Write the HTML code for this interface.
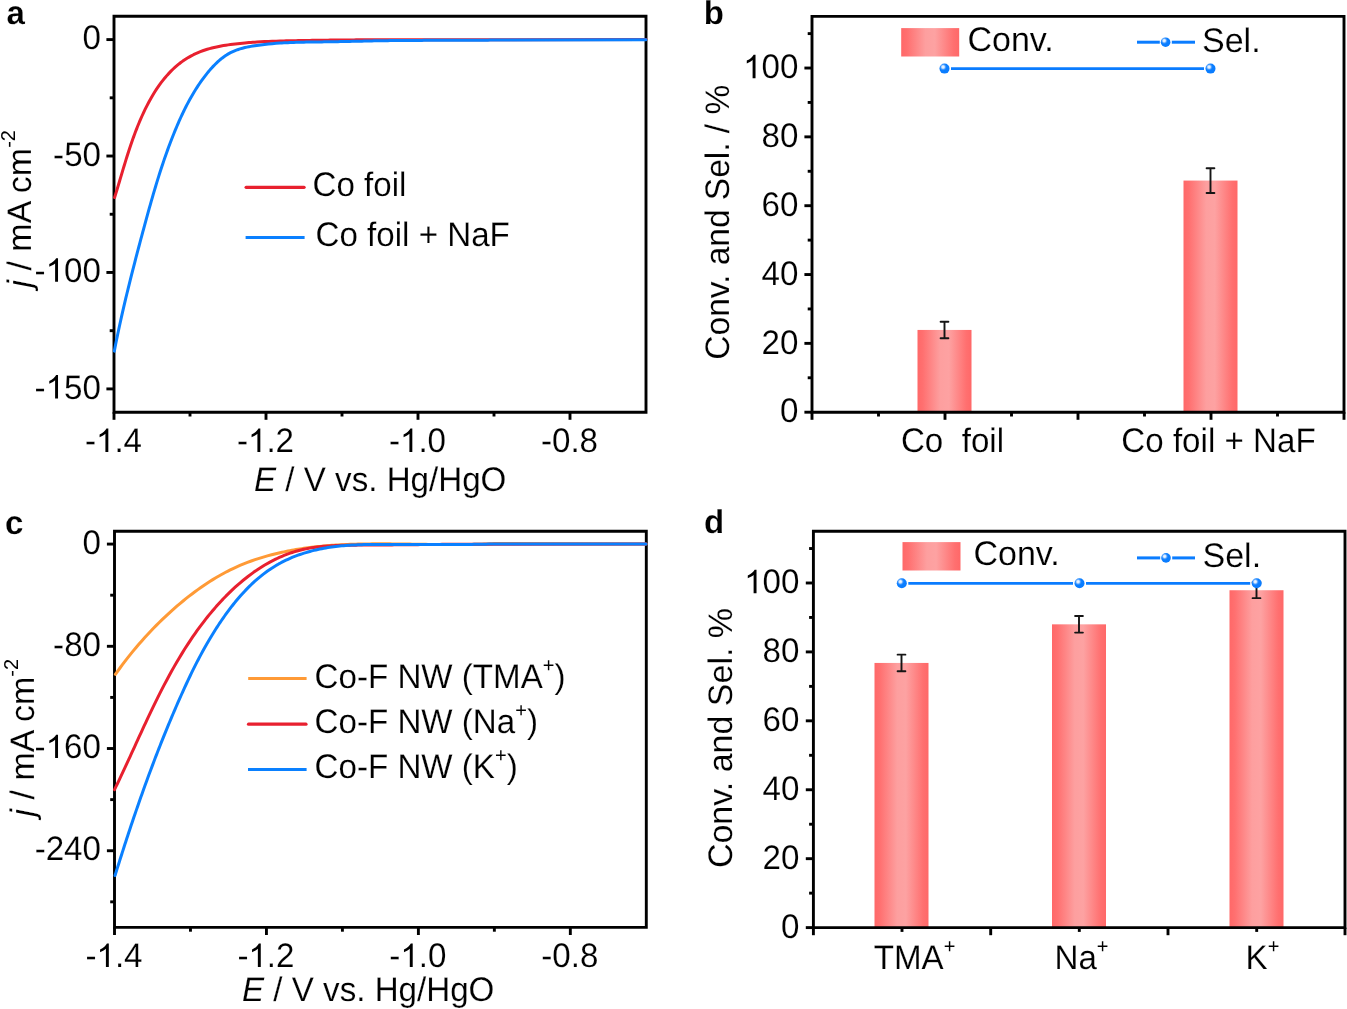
<!DOCTYPE html>
<html><head><meta charset="utf-8"><style>
html,body{margin:0;padding:0;background:#fff;width:1347px;height:1009px;overflow:hidden}
svg{position:absolute;left:0;top:0;will-change:transform} text{text-rendering:geometricPrecision;stroke:#fff;stroke-width:0.15px}
</style></head><body>
<svg width="1347" height="1009" viewBox="0 0 1347 1009">
<text transform="translate(6.50 24.40) scale(1.0000 1)" font-family="Liberation Sans, sans-serif" font-size="33" font-weight="bold" text-anchor="start">a</text>
<text transform="translate(703.70 23.90) scale(1.0000 1)" font-family="Liberation Sans, sans-serif" font-size="33" font-weight="bold" text-anchor="start">b</text>
<text transform="translate(4.90 533.60) scale(1.0000 1)" font-family="Liberation Sans, sans-serif" font-size="33" font-weight="bold" text-anchor="start">c</text>
<text transform="translate(704.00 533.40) scale(1.0000 1)" font-family="Liberation Sans, sans-serif" font-size="33" font-weight="bold" text-anchor="start">d</text>
<line x1="114" y1="39.59" x2="106.40" y2="39.59" stroke="#000" stroke-width="2.9"/>
<line x1="114" y1="156.03" x2="106.40" y2="156.03" stroke="#000" stroke-width="2.9"/>
<line x1="114" y1="272.47" x2="106.40" y2="272.47" stroke="#000" stroke-width="2.9"/>
<line x1="114" y1="388.91" x2="106.40" y2="388.91" stroke="#000" stroke-width="2.9"/>
<line x1="114" y1="97.81" x2="109.70" y2="97.81" stroke="#000" stroke-width="2.9"/>
<line x1="114" y1="214.25" x2="109.70" y2="214.25" stroke="#000" stroke-width="2.9"/>
<line x1="114" y1="330.69" x2="109.70" y2="330.69" stroke="#000" stroke-width="2.9"/>
<line x1="114.00" y1="412.2" x2="114.00" y2="419.80" stroke="#000" stroke-width="2.9"/>
<line x1="266.00" y1="412.2" x2="266.00" y2="419.80" stroke="#000" stroke-width="2.9"/>
<line x1="418.00" y1="412.2" x2="418.00" y2="419.80" stroke="#000" stroke-width="2.9"/>
<line x1="570.00" y1="412.2" x2="570.00" y2="419.80" stroke="#000" stroke-width="2.9"/>
<line x1="190.00" y1="412.2" x2="190.00" y2="416.50" stroke="#000" stroke-width="2.9"/>
<line x1="342.00" y1="412.2" x2="342.00" y2="416.50" stroke="#000" stroke-width="2.9"/>
<line x1="494.00" y1="412.2" x2="494.00" y2="416.50" stroke="#000" stroke-width="2.9"/>
<text transform="translate(101.00 48.79) scale(0.9750 1)" font-family="Liberation Sans, sans-serif" font-size="34" text-anchor="end">0</text>
<text transform="translate(101.00 165.83) scale(0.9750 1)" font-family="Liberation Sans, sans-serif" font-size="34" text-anchor="end">-50</text>
<text transform="translate(101.00 281.67) scale(0.9750 1)" font-family="Liberation Sans, sans-serif" font-size="34" text-anchor="end">-<tspan fill="transparent" stroke="none">1</tspan>00</text>
<path transform="translate(45.67 281.67) scale(0.01619 -0.01660)" d="M763,0 L583,0 L583,1102 Q518,1043 413,983 Q307,924 223,894 L223,1061 Q374,1129 487,1226 Q600,1323 647,1409 L763,1409 Z"/>
<text transform="translate(101.00 398.51) scale(0.9750 1)" font-family="Liberation Sans, sans-serif" font-size="34" text-anchor="end">-<tspan fill="transparent" stroke="none">1</tspan>50</text>
<path transform="translate(45.67 398.51) scale(0.01619 -0.01660)" d="M763,0 L583,0 L583,1102 Q518,1043 413,983 Q307,924 223,894 L223,1061 Q374,1129 487,1226 Q600,1323 647,1409 L763,1409 Z"/>
<text transform="translate(113.50 452.00) scale(0.9750 1)" font-family="Liberation Sans, sans-serif" font-size="34" text-anchor="middle">-<tspan fill="transparent" stroke="none">1</tspan>.4</text>
<path transform="translate(95.97 452.00) scale(0.01619 -0.01660)" d="M763,0 L583,0 L583,1102 Q518,1043 413,983 Q307,924 223,894 L223,1061 Q374,1129 487,1226 Q600,1323 647,1409 L763,1409 Z"/>
<text transform="translate(265.50 452.00) scale(0.9750 1)" font-family="Liberation Sans, sans-serif" font-size="34" text-anchor="middle">-<tspan fill="transparent" stroke="none">1</tspan>.2</text>
<path transform="translate(247.97 452.00) scale(0.01619 -0.01660)" d="M763,0 L583,0 L583,1102 Q518,1043 413,983 Q307,924 223,894 L223,1061 Q374,1129 487,1226 Q600,1323 647,1409 L763,1409 Z"/>
<text transform="translate(417.50 452.00) scale(0.9750 1)" font-family="Liberation Sans, sans-serif" font-size="34" text-anchor="middle">-<tspan fill="transparent" stroke="none">1</tspan>.0</text>
<path transform="translate(399.97 452.00) scale(0.01619 -0.01660)" d="M763,0 L583,0 L583,1102 Q518,1043 413,983 Q307,924 223,894 L223,1061 Q374,1129 487,1226 Q600,1323 647,1409 L763,1409 Z"/>
<text transform="translate(569.50 452.00) scale(0.9750 1)" font-family="Liberation Sans, sans-serif" font-size="34" text-anchor="middle">-0.8</text>
<path d="M114,412.2 L114,16.3 L646,16.3 L646,412.2 Z" fill="none" stroke="#000" stroke-width="2.9"/>
<path d="M114.60,197.49 L115.80,193.59 L116.98,189.71 L118.15,185.84 L119.30,181.98 L120.44,178.14 L121.58,174.32 L122.46,171.37 L123.34,168.44 L124.23,165.51 L125.12,162.59 L126.02,159.67 L126.92,156.76 L127.80,154.00 L128.69,151.24 L129.59,148.49 L130.51,145.74 L131.44,142.99 L132.40,140.25 L133.00,138.56 L133.61,136.87 L134.22,135.18 L134.85,133.50 L135.49,131.81 L136.13,130.13 L136.83,128.34 L137.54,126.55 L138.27,124.76 L139.00,122.97 L139.75,121.19 L140.52,119.40 L142.02,115.98 L143.58,112.57 L145.20,109.18 L146.88,105.81 L148.63,102.47 L150.43,99.17 L152.44,95.69 L154.52,92.27 L156.68,88.92 L158.93,85.63 L161.27,82.43 L163.70,79.31 L165.45,77.20 L167.24,75.14 L169.08,73.12 L170.97,71.16 L172.90,69.26 L174.89,67.42 L176.04,66.40 L177.20,65.41 L178.39,64.43 L179.59,63.48 L180.80,62.55 L182.04,61.64 L183.17,60.83 L184.32,60.04 L185.49,59.28 L186.66,58.53 L187.86,57.80 L189.06,57.09 L191.25,55.87 L193.48,54.71 L195.75,53.61 L198.05,52.59 L200.39,51.63 L202.75,50.74 L204.99,49.97 L207.26,49.25 L209.54,48.59 L211.85,47.99 L214.17,47.42 L216.51,46.91 L218.81,46.44 L221.13,46.00 L223.45,45.60 L225.78,45.23 L228.12,44.88 L230.45,44.55 L232.87,44.23 L235.29,43.94 L237.70,43.66 L240.12,43.40 L242.54,43.15 L244.96,42.92 L246.93,42.75 L248.91,42.58 L250.88,42.43 L252.86,42.28 L254.84,42.15 L256.81,42.02 L260.68,41.79 L264.54,41.59 L268.41,41.42 L272.28,41.26 L276.15,41.13 L280.02,41.01 L282.01,40.96 L284.01,40.91 L286.01,40.86 L288.01,40.81 L290.01,40.77 L292.01,40.72 L294.01,40.68 L296.01,40.64 L298.01,40.60 L300.01,40.56 L302.01,40.53 L304.01,40.49 L306.01,40.45 L308.01,40.42 L310.01,40.39 L312.01,40.35 L314.01,40.32 L316.01,40.29 L318.01,40.26 L320.01,40.23 L322.01,40.21 L324.01,40.18 L326.01,40.16 L328.01,40.13 L330.01,40.11 L332.01,40.08 L334.00,40.06 L336.00,40.04 L338.00,40.02 L340.00,40.00 L342.00,39.98 L344.00,39.96 L346.00,39.95 L348.00,39.93 L350.00,39.91 L352.00,39.90 L354.00,39.88 L356.00,39.87 L358.00,39.86 L360.00,39.85 L362.00,39.83 L364.00,39.82 L366.00,39.81 L368.00,39.80 L370.00,39.79 L372.00,39.78 L374.00,39.77 L376.00,39.77 L378.00,39.76 L380.00,39.75 L382.00,39.75 L384.00,39.74 L386.00,39.73 L388.00,39.73 L390.00,39.73 L392.00,39.72 L394.00,39.72 L396.00,39.71 L398.00,39.71 L400.00,39.71 L402.00,39.70 L404.00,39.70 L406.00,39.70 L408.00,39.70 L410.00,39.70 L412.00,39.70 L414.00,39.70 L416.00,39.70 L418.00,39.69 L420.00,39.69 L422.00,39.69 L424.00,39.69 L426.00,39.69 L428.00,39.69 L430.00,39.69 L432.00,39.70 L434.00,39.70 L436.00,39.70 L438.00,39.70 L440.00,39.70 L442.00,39.70 L444.00,39.70 L446.00,39.70 L448.00,39.70 L450.00,39.70 L452.00,39.70 L454.00,39.70 L456.00,39.70 L458.00,39.70 L460.00,39.70 L462.00,39.70 L464.00,39.70 L466.00,39.70 L468.00,39.70 L470.00,39.70 L472.00,39.70 L474.00,39.70 L476.00,39.70 L478.00,39.69 L480.00,39.69 L482.00,39.69 L484.00,39.69 L486.00,39.68 L488.00,39.68 L490.00,39.68 L492.00,39.67 L494.00,39.67 L496.00,39.66 L646.00,39.60" fill="none" stroke="#e8202f" stroke-width="3" stroke-linecap="round" stroke-linejoin="round"/>
<path d="M114.31,351.11 L114.98,347.67 L115.66,344.23 L116.35,340.80 L117.06,337.37 L117.77,333.94 L118.50,330.52 L119.47,325.99 L120.46,321.47 L121.47,316.95 L122.49,312.44 L123.53,307.93 L124.58,303.42 L125.69,298.70 L126.82,293.99 L127.97,289.27 L129.13,284.56 L130.30,279.86 L131.48,275.15 L132.57,270.85 L133.67,266.56 L134.78,262.26 L135.89,257.97 L137.01,253.68 L138.14,249.40 L139.04,246.00 L139.94,242.61 L140.85,239.23 L141.76,235.84 L142.67,232.45 L143.58,229.06 L144.52,225.58 L145.47,222.09 L146.42,218.61 L147.38,215.13 L148.34,211.65 L149.31,208.18 L150.33,204.55 L151.36,200.93 L152.40,197.31 L153.45,193.70 L154.51,190.09 L155.59,186.48 L156.59,183.18 L157.60,179.89 L158.62,176.60 L159.66,173.32 L160.72,170.04 L161.79,166.76 L162.73,163.94 L163.68,161.11 L164.65,158.30 L165.63,155.48 L166.62,152.67 L167.63,149.87 L168.84,146.57 L170.08,143.28 L171.33,139.99 L172.61,136.71 L173.92,133.44 L175.25,130.18 L176.02,128.33 L176.80,126.49 L177.59,124.64 L178.38,122.80 L179.19,120.97 L180.01,119.14 L180.75,117.50 L181.50,115.86 L182.27,114.24 L183.04,112.61 L183.82,110.99 L184.61,109.38 L185.80,107.02 L187.01,104.67 L188.24,102.33 L189.50,100.01 L190.78,97.71 L192.10,95.42 L193.26,93.44 L194.44,91.49 L195.65,89.54 L196.88,87.61 L198.14,85.69 L199.42,83.78 L200.50,82.22 L201.59,80.67 L202.71,79.12 L203.84,77.59 L204.99,76.07 L206.16,74.56 L207.28,73.16 L208.41,71.77 L209.56,70.39 L210.73,69.04 L211.93,67.70 L213.14,66.38 L214.30,65.16 L215.48,63.97 L216.69,62.80 L217.91,61.66 L219.15,60.55 L220.42,59.47 L222.02,58.18 L223.66,56.94 L225.33,55.77 L227.04,54.66 L228.79,53.63 L230.57,52.66 L232.85,51.56 L235.18,50.58 L237.56,49.70 L239.99,48.91 L242.46,48.20 L244.95,47.57 L246.89,47.14 L248.83,46.74 L250.79,46.37 L252.76,46.03 L254.73,45.72 L256.71,45.43 L260.57,44.90 L264.44,44.43 L268.31,44.02 L272.18,43.66 L276.05,43.35 L279.93,43.08 L281.93,42.95 L283.94,42.84 L285.94,42.73 L287.95,42.64 L289.95,42.55 L291.96,42.47 L293.96,42.40 L295.97,42.34 L297.97,42.28 L299.98,42.23 L301.98,42.18 L303.99,42.14 L305.99,42.10 L308.00,42.07 L310.00,42.04 L312.01,42.01 L314.01,41.98 L316.02,41.96 L318.02,41.93 L320.02,41.91 L322.03,41.89 L324.03,41.86 L326.03,41.84 L328.04,41.81 L330.04,41.78 L332.04,41.75 L334.04,41.71 L336.04,41.68 L338.04,41.64 L340.04,41.61 L342.04,41.57 L344.04,41.53 L346.03,41.48 L348.03,41.44 L350.03,41.40 L352.03,41.35 L354.03,41.31 L356.02,41.27 L358.02,41.22 L360.02,41.18 L362.02,41.13 L364.01,41.09 L366.01,41.04 L368.01,41.00 L370.00,40.96 L372.00,40.91 L374.00,40.87 L376.00,40.83 L377.99,40.80 L379.99,40.76 L381.99,40.72 L383.99,40.69 L385.99,40.66 L387.98,40.63 L389.98,40.60 L391.98,40.57 L393.98,40.55 L395.98,40.53 L397.98,40.51 L399.98,40.49 L401.98,40.47 L403.98,40.46 L405.98,40.44 L407.98,40.43 L409.98,40.42 L411.98,40.41 L413.98,40.40 L415.98,40.39 L417.99,40.39 L419.99,40.38 L421.99,40.38 L423.99,40.37 L425.99,40.37 L427.99,40.37 L429.99,40.37 L432.00,40.36 L434.00,40.36 L436.00,40.36 L438.00,40.36 L440.00,40.36 L442.00,40.36 L444.00,40.36 L446.01,40.35 L448.01,40.35 L450.01,40.35 L452.01,40.35 L454.01,40.35 L456.01,40.34 L458.01,40.34 L460.01,40.33 L462.01,40.33 L464.01,40.32 L466.01,40.31 L468.01,40.31 L470.01,40.30 L472.01,40.28 L474.01,40.27 L476.01,40.26 L478.01,40.24 L480.01,40.23 L482.01,40.21 L484.00,40.19 L486.00,40.16 L488.00,40.14 L490.00,40.11 L491.99,40.09 L493.99,40.06 L495.99,40.02 L646.00,39.80" fill="none" stroke="#0a80ff" stroke-width="3" stroke-linecap="round" stroke-linejoin="round"/>
<text transform="translate(254.00 491.30) scale(0.9750 1)" font-family="Liberation Sans, sans-serif" font-size="34" text-anchor="start"><tspan font-style="italic">E</tspan> / V vs. Hg/HgO</text>
<text transform="translate(30.70 208.80) rotate(-90) scale(1.0000 1)" font-family="Liberation Sans, sans-serif" font-size="34" text-anchor="middle"><tspan font-style="italic">j</tspan> / mA cm<tspan font-size="20" dy="-15.5" stroke="none">-2</tspan></text>
<line x1="246.1" y1="187.3" x2="304.09999999999997" y2="187.3" stroke="#e8202f" stroke-width="3.2" stroke-linecap="round"/>
<text transform="translate(312.50 196.20) scale(0.9750 1)" font-family="Liberation Sans, sans-serif" font-size="34" text-anchor="start">Co foil</text>
<line x1="245.6" y1="237.4" x2="304.6" y2="237.4" stroke="#0a80ff" stroke-width="3"/>
<text transform="translate(315.50 246.30) scale(0.9750 1)" font-family="Liberation Sans, sans-serif" font-size="34" text-anchor="start">Co foil + NaF</text>
<line x1="114.5" y1="544.08" x2="106.90" y2="544.08" stroke="#000" stroke-width="2.9"/>
<line x1="114.5" y1="646.30" x2="106.90" y2="646.30" stroke="#000" stroke-width="2.9"/>
<line x1="114.5" y1="748.52" x2="106.90" y2="748.52" stroke="#000" stroke-width="2.9"/>
<line x1="114.5" y1="850.74" x2="106.90" y2="850.74" stroke="#000" stroke-width="2.9"/>
<line x1="114.5" y1="595.19" x2="110.20" y2="595.19" stroke="#000" stroke-width="2.9"/>
<line x1="114.5" y1="697.41" x2="110.20" y2="697.41" stroke="#000" stroke-width="2.9"/>
<line x1="114.5" y1="799.63" x2="110.20" y2="799.63" stroke="#000" stroke-width="2.9"/>
<line x1="114.5" y1="901.85" x2="110.20" y2="901.85" stroke="#000" stroke-width="2.9"/>
<line x1="114.50" y1="927.4" x2="114.50" y2="935.00" stroke="#000" stroke-width="2.9"/>
<line x1="266.44" y1="927.4" x2="266.44" y2="935.00" stroke="#000" stroke-width="2.9"/>
<line x1="418.39" y1="927.4" x2="418.39" y2="935.00" stroke="#000" stroke-width="2.9"/>
<line x1="570.33" y1="927.4" x2="570.33" y2="935.00" stroke="#000" stroke-width="2.9"/>
<line x1="190.47" y1="927.4" x2="190.47" y2="931.70" stroke="#000" stroke-width="2.9"/>
<line x1="342.41" y1="927.4" x2="342.41" y2="931.70" stroke="#000" stroke-width="2.9"/>
<line x1="494.36" y1="927.4" x2="494.36" y2="931.70" stroke="#000" stroke-width="2.9"/>
<text transform="translate(101.00 554.08) scale(0.9750 1)" font-family="Liberation Sans, sans-serif" font-size="34" text-anchor="end">0</text>
<text transform="translate(101.00 655.70) scale(0.9750 1)" font-family="Liberation Sans, sans-serif" font-size="34" text-anchor="end">-80</text>
<text transform="translate(101.00 758.12) scale(0.9750 1)" font-family="Liberation Sans, sans-serif" font-size="34" text-anchor="end">-<tspan fill="transparent" stroke="none">1</tspan>60</text>
<path transform="translate(45.67 758.12) scale(0.01619 -0.01660)" d="M763,0 L583,0 L583,1102 Q518,1043 413,983 Q307,924 223,894 L223,1061 Q374,1129 487,1226 Q600,1323 647,1409 L763,1409 Z"/>
<text transform="translate(101.00 860.34) scale(0.9750 1)" font-family="Liberation Sans, sans-serif" font-size="34" text-anchor="end">-240</text>
<text transform="translate(114.00 967.00) scale(0.9750 1)" font-family="Liberation Sans, sans-serif" font-size="34" text-anchor="middle">-<tspan fill="transparent" stroke="none">1</tspan>.4</text>
<path transform="translate(96.47 967.00) scale(0.01619 -0.01660)" d="M763,0 L583,0 L583,1102 Q518,1043 413,983 Q307,924 223,894 L223,1061 Q374,1129 487,1226 Q600,1323 647,1409 L763,1409 Z"/>
<text transform="translate(265.94 967.00) scale(0.9750 1)" font-family="Liberation Sans, sans-serif" font-size="34" text-anchor="middle">-<tspan fill="transparent" stroke="none">1</tspan>.2</text>
<path transform="translate(248.42 967.00) scale(0.01619 -0.01660)" d="M763,0 L583,0 L583,1102 Q518,1043 413,983 Q307,924 223,894 L223,1061 Q374,1129 487,1226 Q600,1323 647,1409 L763,1409 Z"/>
<text transform="translate(417.89 967.00) scale(0.9750 1)" font-family="Liberation Sans, sans-serif" font-size="34" text-anchor="middle">-<tspan fill="transparent" stroke="none">1</tspan>.0</text>
<path transform="translate(400.36 967.00) scale(0.01619 -0.01660)" d="M763,0 L583,0 L583,1102 Q518,1043 413,983 Q307,924 223,894 L223,1061 Q374,1129 487,1226 Q600,1323 647,1409 L763,1409 Z"/>
<text transform="translate(569.83 967.00) scale(0.9750 1)" font-family="Liberation Sans, sans-serif" font-size="34" text-anchor="middle">-0.8</text>
<path d="M114.5,927.4 L114.5,531.3 L646.3,531.3 L646.3,927.4 Z" fill="none" stroke="#000" stroke-width="2.9"/>
<path d="M115.39,674.39 L117.75,671.07 L120.15,667.75 L122.60,664.45 L125.09,661.17 L127.63,657.90 L130.21,654.65 L133.03,651.17 L135.90,647.72 L138.81,644.30 L141.78,640.91 L144.79,637.54 L147.84,634.20 L150.63,631.23 L153.45,628.28 L156.31,625.36 L159.20,622.47 L162.13,619.62 L165.10,616.79 L168.06,614.03 L171.06,611.30 L174.09,608.60 L177.15,605.94 L180.25,603.32 L183.37,600.74 L186.22,598.44 L189.10,596.17 L192.00,593.94 L194.92,591.75 L197.87,589.60 L200.85,587.49 L203.80,585.46 L206.76,583.47 L209.76,581.53 L212.78,579.63 L215.82,577.79 L218.89,576.00 L221.13,574.72 L223.39,573.48 L225.66,572.27 L227.95,571.08 L230.24,569.93 L232.55,568.81 L236.23,567.10 L239.94,565.46 L243.68,563.91 L247.45,562.43 L251.25,561.02 L255.07,559.68 L259.16,558.34 L263.28,557.07 L267.42,555.87 L271.59,554.75 L275.78,553.69 L280.00,552.71 L281.97,552.27 L283.95,551.85 L285.94,551.44 L287.92,551.04 L289.91,550.66 L291.91,550.29 L293.90,549.93 L295.89,549.59 L297.88,549.26 L299.88,548.94 L301.88,548.64 L303.88,548.34 L305.88,548.06 L307.88,547.79 L309.87,547.54 L311.88,547.29 L313.88,547.05 L315.88,546.83 L317.89,546.61 L319.89,546.40 L321.90,546.21 L323.90,546.02 L325.91,545.84 L327.92,545.68 L329.92,545.52 L331.93,545.37 L333.93,545.23 L335.94,545.09 L337.95,544.97 L339.95,544.85 L341.96,544.74 L343.96,544.64 L345.96,544.54 L347.96,544.45 L349.97,544.37 L351.97,544.30 L353.97,544.23 L355.97,544.17 L357.98,544.11 L359.98,544.06 L361.98,544.01 L363.99,543.98 L365.99,543.94 L367.99,543.91 L369.99,543.89 L371.99,543.87 L374.00,543.85 L376.00,543.84 L378.00,543.83 L380.00,543.83 L382.01,543.83 L384.01,543.83 L386.01,543.84 L388.01,543.85 L390.01,543.86 L392.02,543.88 L394.02,543.90 L396.02,543.92 L398.02,543.94 L400.02,543.96 L402.02,543.99 L404.03,544.02 L406.03,544.05 L408.03,544.08 L410.03,544.11 L412.03,544.14 L414.03,544.17 L416.03,544.20 L418.03,544.23 L420.03,544.27 L422.03,544.30 L424.03,544.33 L426.04,544.36 L428.04,544.39 L430.04,544.42 L432.04,544.44 L434.04,544.47 L436.04,544.49 L438.03,544.52 L440.03,544.54 L442.03,544.55 L444.03,544.57 L446.03,544.58 L448.03,544.59 L450.03,544.60 L452.03,544.60 L454.03,544.60 L456.03,544.60 L458.02,544.59 L460.02,544.58 L462.02,544.56 L464.02,544.54 L466.01,544.52 L468.01,544.49 L470.01,544.46 L472.01,544.42 L474.00,544.37 L476.00,544.32 L478.00,544.26 L479.99,544.20 L481.99,544.13 L483.98,544.06 L485.98,543.97 L487.97,543.88 L489.97,543.79 L491.96,543.69 L493.96,543.58 L495.95,543.46 L646.00,543.90" fill="none" stroke="#ff9a36" stroke-width="3" stroke-linecap="round" stroke-linejoin="round"/>
<path d="M114.52,789.61 L115.83,786.92 L117.13,784.24 L118.42,781.54 L119.70,778.85 L120.98,776.15 L122.25,773.45 L123.31,771.19 L124.37,768.94 L125.42,766.68 L126.46,764.42 L127.51,762.16 L128.55,759.90 L130.09,756.56 L131.62,753.23 L133.15,749.89 L134.68,746.56 L136.20,743.22 L137.73,739.89 L139.30,736.47 L140.87,733.05 L142.45,729.64 L144.03,726.23 L145.62,722.82 L147.21,719.42 L149.23,715.14 L151.26,710.88 L153.31,706.62 L155.38,702.37 L157.47,698.14 L159.58,693.92 L161.87,689.41 L164.20,684.91 L166.56,680.43 L168.96,675.98 L171.40,671.54 L173.88,667.13 L176.54,662.51 L179.25,657.91 L182.02,653.35 L184.85,648.82 L187.74,644.32 L190.70,639.85 L192.84,636.71 L195.01,633.59 L197.22,630.48 L199.46,627.40 L201.74,624.34 L204.07,621.29 L205.73,619.16 L207.41,617.04 L209.12,614.93 L210.84,612.83 L212.59,610.75 L214.35,608.68 L215.49,607.38 L216.63,606.07 L217.79,604.78 L218.95,603.49 L220.11,602.21 L221.29,600.94 L222.30,599.87 L223.31,598.81 L224.32,597.75 L225.35,596.69 L226.37,595.65 L227.41,594.61 L229.95,592.10 L232.53,589.64 L235.14,587.22 L237.79,584.85 L240.47,582.53 L243.19,580.26 L248.30,576.21 L253.54,572.36 L258.88,568.72 L264.35,565.30 L269.93,562.12 L275.63,559.20 L276.35,558.85 L277.08,558.50 L277.81,558.16 L278.54,557.82 L279.28,557.49 L280.01,557.16 L282.00,556.30 L284.01,555.47 L286.02,554.67 L288.05,553.91 L290.10,553.18 L292.15,552.49 L294.07,551.87 L295.99,551.29 L297.93,550.74 L299.87,550.22 L301.83,549.74 L303.80,549.28 L305.74,548.87 L307.69,548.48 L309.65,548.13 L311.61,547.80 L313.59,547.50 L315.58,547.22 L317.57,546.97 L319.56,546.74 L321.57,546.53 L323.58,546.35 L325.59,546.18 L327.61,546.03 L329.63,545.89 L331.66,545.78 L333.69,545.67 L335.72,545.58 L337.75,545.50 L339.79,545.43 L341.82,545.37 L343.86,545.32 L345.89,545.28 L347.93,545.24 L349.96,545.21 L351.99,545.18 L354.02,545.15 L356.04,545.13 L358.06,545.10 L360.08,545.08 L362.10,545.06 L364.11,545.05 L366.13,545.03 L368.14,545.01 L370.15,545.00 L372.15,544.99 L374.16,544.97 L376.16,544.96 L378.16,544.95 L380.16,544.94 L382.16,544.93 L384.16,544.92 L386.16,544.91 L388.16,544.90 L390.15,544.89 L392.15,544.88 L394.14,544.86 L396.13,544.85 L398.13,544.84 L400.12,544.82 L402.11,544.81 L404.11,544.79 L406.10,544.77 L408.09,544.75 L410.08,544.73 L412.07,544.71 L414.07,544.69 L416.06,544.67 L418.05,544.64 L420.04,544.62 L422.03,544.60 L424.03,544.57 L426.02,544.55 L428.01,544.52 L430.00,544.50 L432.00,544.48 L433.99,544.45 L435.98,544.43 L437.97,544.40 L439.97,544.38 L441.96,544.36 L443.96,544.34 L445.95,544.32 L447.95,544.30 L449.94,544.28 L451.94,544.26 L453.94,544.24 L455.94,544.23 L457.93,544.21 L459.93,544.20 L461.93,544.18 L463.93,544.17 L465.93,544.16 L467.94,544.16 L469.94,544.15 L471.94,544.15 L473.95,544.14 L475.95,544.14 L477.96,544.15 L479.97,544.15 L481.97,544.16 L483.98,544.17 L485.99,544.18 L488.01,544.19 L490.02,544.21 L492.03,544.23 L494.05,544.25 L496.06,544.27 L646.00,543.90" fill="none" stroke="#e8202f" stroke-width="3" stroke-linecap="round" stroke-linejoin="round"/>
<path d="M115.04,875.51 L115.77,873.14 L116.50,870.78 L117.24,868.42 L117.98,866.06 L118.72,863.70 L119.47,861.33 L120.03,859.54 L120.60,857.75 L121.17,855.96 L121.74,854.17 L122.31,852.38 L122.89,850.59 L123.81,847.71 L124.74,844.83 L125.68,841.95 L126.62,839.08 L127.56,836.20 L128.51,833.32 L129.79,829.45 L131.08,825.58 L132.38,821.71 L133.69,817.84 L135.01,813.98 L136.33,810.12 L137.43,806.92 L138.54,803.72 L139.66,800.53 L140.78,797.34 L141.91,794.15 L143.04,790.97 L144.89,785.83 L146.75,780.70 L148.63,775.57 L150.53,770.46 L152.45,765.35 L154.38,760.25 L155.31,757.82 L156.25,755.39 L157.18,752.96 L158.13,750.54 L159.07,748.11 L160.03,745.69 L161.22,742.66 L162.43,739.64 L163.64,736.62 L164.86,733.60 L166.09,730.59 L167.32,727.58 L168.42,724.91 L169.53,722.24 L170.65,719.58 L171.77,716.91 L172.90,714.25 L174.03,711.60 L174.91,709.56 L175.78,707.53 L176.66,705.50 L177.55,703.47 L178.44,701.44 L179.33,699.41 L181.07,695.49 L182.83,691.57 L184.61,687.66 L186.41,683.75 L188.23,679.86 L190.08,675.98 L191.42,673.21 L192.77,670.44 L194.14,667.68 L195.52,664.93 L196.92,662.18 L198.34,659.45 L199.68,656.89 L201.04,654.34 L202.42,651.80 L203.81,649.27 L205.22,646.75 L206.65,644.24 L207.96,641.96 L209.29,639.69 L210.63,637.43 L212.00,635.18 L213.38,632.94 L214.77,630.70 L215.84,629.03 L216.91,627.36 L217.99,625.69 L219.09,624.03 L220.19,622.38 L221.31,620.73 L222.40,619.15 L223.49,617.58 L224.59,616.01 L225.71,614.45 L226.83,612.90 L227.97,611.35 L229.08,609.87 L230.19,608.40 L231.32,606.93 L232.46,605.48 L233.60,604.03 L234.76,602.59 L235.81,601.31 L236.87,600.03 L237.94,598.77 L239.02,597.51 L240.11,596.26 L241.20,595.02 L242.85,593.20 L244.51,591.40 L246.20,589.63 L247.91,587.88 L249.64,586.16 L251.39,584.46 L255.18,580.96 L259.08,577.59 L263.07,574.37 L267.18,571.31 L271.38,568.42 L275.70,565.71 L276.42,565.29 L277.14,564.86 L277.86,564.45 L278.59,564.04 L279.32,563.63 L280.05,563.23 L282.01,562.19 L283.99,561.18 L285.99,560.21 L288.01,559.27 L290.04,558.36 L292.10,557.49 L294.04,556.70 L296.01,555.94 L297.98,555.20 L299.97,554.49 L301.97,553.82 L303.98,553.17 L305.94,552.56 L307.90,551.99 L309.88,551.44 L311.87,550.91 L313.86,550.41 L315.86,549.93 L317.83,549.48 L319.80,549.06 L321.78,548.66 L323.77,548.28 L325.76,547.93 L327.76,547.59 L329.74,547.29 L331.73,547.00 L333.73,546.73 L335.72,546.48 L337.72,546.25 L339.72,546.03 L341.73,545.83 L343.73,545.65 L345.74,545.49 L347.75,545.34 L349.76,545.21 L351.78,545.08 L353.79,544.98 L355.81,544.88 L357.82,544.79 L359.84,544.72 L361.86,544.66 L363.88,544.60 L365.90,544.56 L367.92,544.52 L369.94,544.49 L371.96,544.46 L373.98,544.45 L376.00,544.43 L378.02,544.43 L380.04,544.42 L382.05,544.42 L384.07,544.43 L386.08,544.43 L388.10,544.44 L390.11,544.44 L392.12,544.45 L394.13,544.46 L396.14,544.47 L398.14,544.47 L400.15,544.48 L402.15,544.49 L404.15,544.50 L406.15,544.51 L408.15,544.52 L410.15,544.53 L412.15,544.54 L414.14,544.55 L416.14,544.55 L418.13,544.56 L420.13,544.57 L422.12,544.58 L424.11,544.58 L426.11,544.59 L428.10,544.60 L430.09,544.60 L432.08,544.60 L434.07,544.61 L436.06,544.61 L438.05,544.61 L440.04,544.61 L442.03,544.61 L444.03,544.60 L446.02,544.60 L448.01,544.60 L450.00,544.59 L451.99,544.58 L453.98,544.57 L455.97,544.56 L457.97,544.55 L459.96,544.53 L461.95,544.51 L463.95,544.50 L465.94,544.47 L467.94,544.45 L469.94,544.43 L471.94,544.40 L473.94,544.37 L475.94,544.34 L477.94,544.31 L479.94,544.27 L481.94,544.23 L483.95,544.19 L485.96,544.14 L487.96,544.10 L489.97,544.05 L491.99,543.99 L494.00,543.94 L496.01,543.88 L646.00,543.90" fill="none" stroke="#0a80ff" stroke-width="3" stroke-linecap="round" stroke-linejoin="round"/>
<text transform="translate(242.00 1001.30) scale(0.9750 1)" font-family="Liberation Sans, sans-serif" font-size="34" text-anchor="start"><tspan font-style="italic">E</tspan> / V vs. Hg/HgO</text>
<text transform="translate(33.50 737.70) rotate(-90) scale(1.0000 1)" font-family="Liberation Sans, sans-serif" font-size="34" text-anchor="middle"><tspan font-style="italic">j</tspan> / mA cm<tspan font-size="20" dy="-15.5" stroke="none">-2</tspan></text>
<line x1="248.2" y1="678.6" x2="306.6" y2="678.6" stroke="#ff9a36" stroke-width="3"/>
<text transform="translate(314.50 688.30) scale(0.9750 1)" font-family="Liberation Sans, sans-serif" font-size="34" text-anchor="start">Co-F NW (TMA<tspan font-size="20.5" dy="-16" stroke="none">+</tspan><tspan dy="16">)</tspan></text>
<line x1="248.5" y1="724.2" x2="306.0" y2="724.2" stroke="#e8202f" stroke-width="3.2" stroke-linecap="round"/>
<text transform="translate(314.50 733.00) scale(0.9750 1)" font-family="Liberation Sans, sans-serif" font-size="34" text-anchor="start">Co-F NW (Na<tspan font-size="20.5" dy="-16" stroke="none">+</tspan><tspan dy="16">)</tspan></text>
<line x1="248" y1="769.4" x2="306.6" y2="769.4" stroke="#0a80ff" stroke-width="3"/>
<text transform="translate(314.50 778.30) scale(0.9750 1)" font-family="Liberation Sans, sans-serif" font-size="34" text-anchor="start">Co-F NW (K<tspan font-size="20.5" dy="-16" stroke="none">+</tspan><tspan dy="16">)</tspan></text>
<defs>
<linearGradient id="bg" x1="0" x2="1" y1="0" y2="0">
<stop offset="0" stop-color="#ff6868"/><stop offset="0.1" stop-color="#ff7070"/><stop offset="0.42" stop-color="#fd9f9f"/><stop offset="0.58" stop-color="#fda2a2"/><stop offset="0.9" stop-color="#ff7070"/><stop offset="1" stop-color="#ff6868"/>
</linearGradient>
<radialGradient id="dg" cx="0.36" cy="0.34" r="0.62" fx="0.36" fy="0.34">
<stop offset="0" stop-color="#f4f9ff"/><stop offset="0.2" stop-color="#d6e9ff"/><stop offset="0.42" stop-color="#3a95ff"/><stop offset="0.58" stop-color="#0a7eff"/><stop offset="1" stop-color="#0a7cff"/>
</radialGradient>
</defs>
<line x1="812" y1="412.20" x2="804.40" y2="412.20" stroke="#000" stroke-width="2.9"/>
<line x1="812" y1="343.37" x2="804.40" y2="343.37" stroke="#000" stroke-width="2.9"/>
<line x1="812" y1="274.53" x2="804.40" y2="274.53" stroke="#000" stroke-width="2.9"/>
<line x1="812" y1="205.70" x2="804.40" y2="205.70" stroke="#000" stroke-width="2.9"/>
<line x1="812" y1="136.86" x2="804.40" y2="136.86" stroke="#000" stroke-width="2.9"/>
<line x1="812" y1="68.03" x2="804.40" y2="68.03" stroke="#000" stroke-width="2.9"/>
<line x1="812" y1="377.78" x2="807.70" y2="377.78" stroke="#000" stroke-width="2.9"/>
<line x1="812" y1="308.95" x2="807.70" y2="308.95" stroke="#000" stroke-width="2.9"/>
<line x1="812" y1="240.11" x2="807.70" y2="240.11" stroke="#000" stroke-width="2.9"/>
<line x1="812" y1="171.28" x2="807.70" y2="171.28" stroke="#000" stroke-width="2.9"/>
<line x1="812" y1="102.44" x2="807.70" y2="102.44" stroke="#000" stroke-width="2.9"/>
<line x1="812" y1="33.61" x2="807.70" y2="33.61" stroke="#000" stroke-width="2.9"/>
<line x1="812.00" y1="412.2" x2="812.00" y2="419.80" stroke="#000" stroke-width="2.9"/>
<line x1="945.00" y1="412.2" x2="945.00" y2="419.80" stroke="#000" stroke-width="2.9"/>
<line x1="1078.00" y1="412.2" x2="1078.00" y2="419.80" stroke="#000" stroke-width="2.9"/>
<line x1="1211.00" y1="412.2" x2="1211.00" y2="419.80" stroke="#000" stroke-width="2.9"/>
<line x1="1344.00" y1="412.2" x2="1344.00" y2="419.80" stroke="#000" stroke-width="2.9"/>
<line x1="878.50" y1="412.2" x2="878.50" y2="416.50" stroke="#000" stroke-width="2.9"/>
<line x1="1011.50" y1="412.2" x2="1011.50" y2="416.50" stroke="#000" stroke-width="2.9"/>
<line x1="1144.50" y1="412.2" x2="1144.50" y2="416.50" stroke="#000" stroke-width="2.9"/>
<line x1="1277.50" y1="412.2" x2="1277.50" y2="416.50" stroke="#000" stroke-width="2.9"/>
<text transform="translate(798.50 422.40) scale(0.9750 1)" font-family="Liberation Sans, sans-serif" font-size="34" text-anchor="end">0</text>
<text transform="translate(798.50 353.57) scale(0.9750 1)" font-family="Liberation Sans, sans-serif" font-size="34" text-anchor="end">20</text>
<text transform="translate(798.50 284.73) scale(0.9750 1)" font-family="Liberation Sans, sans-serif" font-size="34" text-anchor="end">40</text>
<text transform="translate(798.50 215.90) scale(0.9750 1)" font-family="Liberation Sans, sans-serif" font-size="34" text-anchor="end">60</text>
<text transform="translate(798.50 147.06) scale(0.9750 1)" font-family="Liberation Sans, sans-serif" font-size="34" text-anchor="end">80</text>
<text transform="translate(798.50 78.23) scale(0.9750 1)" font-family="Liberation Sans, sans-serif" font-size="34" text-anchor="end"><tspan fill="transparent" stroke="none">1</tspan>00</text>
<path transform="translate(743.17 78.23) scale(0.01619 -0.01660)" d="M763,0 L583,0 L583,1102 Q518,1043 413,983 Q307,924 223,894 L223,1061 Q374,1129 487,1226 Q600,1323 647,1409 L763,1409 Z"/>
<rect x="917.5" y="329.94" width="54" height="82.26" fill="url(#bg)"/>
<path d="M944.5,321.68 V338.20 M940.6,321.68 H948.4 M940.6,338.20 H948.4" stroke="#151515" stroke-width="1.9" stroke-linecap="round" fill="none"/>
<rect x="1183.5" y="180.57" width="54" height="231.63" fill="url(#bg)"/>
<path d="M1210.5,168.18 V192.96 M1206.6,168.18 H1214.4 M1206.6,192.96 H1214.4" stroke="#151515" stroke-width="1.9" stroke-linecap="round" fill="none"/>
<line x1="951.0" y1="68.6" x2="1204.0" y2="68.6" stroke="#0a7cff" stroke-width="2.8"/>
<circle cx="944.5" cy="68.6" r="5.0" fill="url(#dg)"/>
<circle cx="1210.5" cy="68.6" r="5.0" fill="url(#dg)"/>
<path d="M812,412.2 L812,16.4 L1344,16.4 L1344,412.2 Z" fill="none" stroke="#000" stroke-width="2.9"/>
<text transform="translate(952.50 451.50) scale(0.9750 1)" font-family="Liberation Sans, sans-serif" font-size="34" text-anchor="middle">Co  foil</text>
<text transform="translate(1218.50 451.70) scale(0.9750 1)" font-family="Liberation Sans, sans-serif" font-size="34" text-anchor="middle">Co foil + NaF</text>
<text transform="translate(728.50 222.20) rotate(-90) scale(0.9850 1)" font-family="Liberation Sans, sans-serif" font-size="34" text-anchor="middle">Conv. and Sel. / %</text>
<rect x="901.2" y="28.1" width="58" height="28.4" fill="url(#bg)"/>
<text transform="translate(967.50 51.20) scale(1.0000 1)" font-family="Liberation Sans, sans-serif" font-size="34" text-anchor="start">Conv.</text>
<line x1="1137" y1="42.2" x2="1159.8" y2="42.2" stroke="#0a7cff" stroke-width="3"/>
<line x1="1171.8" y1="42.2" x2="1195" y2="42.2" stroke="#0a7cff" stroke-width="3"/>
<circle cx="1165.6" cy="42.2" r="4.8" fill="url(#dg)"/>
<text transform="translate(1202.00 52.00) scale(1.0000 1)" font-family="Liberation Sans, sans-serif" font-size="34" text-anchor="start">Sel.</text>
<line x1="813.4" y1="927.60" x2="805.80" y2="927.60" stroke="#000" stroke-width="2.9"/>
<line x1="813.4" y1="858.68" x2="805.80" y2="858.68" stroke="#000" stroke-width="2.9"/>
<line x1="813.4" y1="789.76" x2="805.80" y2="789.76" stroke="#000" stroke-width="2.9"/>
<line x1="813.4" y1="720.83" x2="805.80" y2="720.83" stroke="#000" stroke-width="2.9"/>
<line x1="813.4" y1="651.91" x2="805.80" y2="651.91" stroke="#000" stroke-width="2.9"/>
<line x1="813.4" y1="582.99" x2="805.80" y2="582.99" stroke="#000" stroke-width="2.9"/>
<line x1="813.4" y1="893.14" x2="809.10" y2="893.14" stroke="#000" stroke-width="2.9"/>
<line x1="813.4" y1="824.22" x2="809.10" y2="824.22" stroke="#000" stroke-width="2.9"/>
<line x1="813.4" y1="755.30" x2="809.10" y2="755.30" stroke="#000" stroke-width="2.9"/>
<line x1="813.4" y1="686.37" x2="809.10" y2="686.37" stroke="#000" stroke-width="2.9"/>
<line x1="813.4" y1="617.45" x2="809.10" y2="617.45" stroke="#000" stroke-width="2.9"/>
<line x1="813.4" y1="548.53" x2="809.10" y2="548.53" stroke="#000" stroke-width="2.9"/>
<line x1="813.40" y1="927.6" x2="813.40" y2="935.20" stroke="#000" stroke-width="2.9"/>
<line x1="990.70" y1="927.6" x2="990.70" y2="935.20" stroke="#000" stroke-width="2.9"/>
<line x1="1168.00" y1="927.6" x2="1168.00" y2="935.20" stroke="#000" stroke-width="2.9"/>
<line x1="1345.00" y1="927.6" x2="1345.00" y2="935.20" stroke="#000" stroke-width="2.9"/>
<line x1="902.00" y1="927.6" x2="902.00" y2="931.90" stroke="#000" stroke-width="2.9"/>
<line x1="1079.30" y1="927.6" x2="1079.30" y2="931.90" stroke="#000" stroke-width="2.9"/>
<line x1="1256.70" y1="927.6" x2="1256.70" y2="931.90" stroke="#000" stroke-width="2.9"/>
<text transform="translate(799.50 937.80) scale(0.9750 1)" font-family="Liberation Sans, sans-serif" font-size="34" text-anchor="end">0</text>
<text transform="translate(799.50 868.88) scale(0.9750 1)" font-family="Liberation Sans, sans-serif" font-size="34" text-anchor="end">20</text>
<text transform="translate(799.50 799.96) scale(0.9750 1)" font-family="Liberation Sans, sans-serif" font-size="34" text-anchor="end">40</text>
<text transform="translate(799.50 731.03) scale(0.9750 1)" font-family="Liberation Sans, sans-serif" font-size="34" text-anchor="end">60</text>
<text transform="translate(799.50 662.11) scale(0.9750 1)" font-family="Liberation Sans, sans-serif" font-size="34" text-anchor="end">80</text>
<text transform="translate(799.50 593.19) scale(0.9750 1)" font-family="Liberation Sans, sans-serif" font-size="34" text-anchor="end"><tspan fill="transparent" stroke="none">1</tspan>00</text>
<path transform="translate(744.17 593.19) scale(0.01619 -0.01660)" d="M763,0 L583,0 L583,1102 Q518,1043 413,983 Q307,924 223,894 L223,1061 Q374,1129 487,1226 Q600,1323 647,1409 L763,1409 Z"/>
<rect x="874.5" y="662.94" width="54" height="264.66" fill="url(#bg)"/>
<path d="M901.5,654.67 V671.21 M897.6,654.67 H905.4 M897.6,671.21 H905.4" stroke="#151515" stroke-width="1.9" stroke-linecap="round" fill="none"/>
<rect x="1052" y="624.34" width="54" height="303.26" fill="url(#bg)"/>
<path d="M1079,616.07 V632.61 M1075.1,616.07 H1082.9 M1075.1,632.61 H1082.9" stroke="#151515" stroke-width="1.9" stroke-linecap="round" fill="none"/>
<rect x="1229.5" y="590.23" width="54" height="337.37" fill="url(#bg)"/>
<path d="M1256.5,582.30 V598.15 M1252.6,582.30 H1260.4 M1252.6,598.15 H1260.4" stroke="#151515" stroke-width="1.9" stroke-linecap="round" fill="none"/>
<line x1="908.3" y1="583.3" x2="1073.0" y2="583.3" stroke="#0a7cff" stroke-width="2.8"/>
<line x1="1086.0" y1="583.3" x2="1250.2" y2="583.3" stroke="#0a7cff" stroke-width="2.8"/>
<circle cx="901.8" cy="583.3" r="5.0" fill="url(#dg)"/>
<circle cx="1079.5" cy="583.3" r="5.0" fill="url(#dg)"/>
<circle cx="1256.7" cy="583.3" r="5.0" fill="url(#dg)"/>
<path d="M813.4,927.6 L813.4,531.3 L1345,531.3 L1345,927.6 Z" fill="none" stroke="#000" stroke-width="2.9"/>
<text transform="translate(914.50 969.40) scale(0.9750 1)" font-family="Liberation Sans, sans-serif" font-size="34" text-anchor="middle">TMA<tspan font-size="20.5" dy="-16" stroke="none">+</tspan></text>
<text transform="translate(1081.50 969.40) scale(0.9750 1)" font-family="Liberation Sans, sans-serif" font-size="34" text-anchor="middle">Na<tspan font-size="20.5" dy="-16" stroke="none">+</tspan></text>
<text transform="translate(1262.50 969.40) scale(0.9750 1)" font-family="Liberation Sans, sans-serif" font-size="34" text-anchor="middle">K<tspan font-size="20.5" dy="-16" stroke="none">+</tspan></text>
<text transform="translate(732.00 738.00) rotate(-90) scale(1.0000 1)" font-family="Liberation Sans, sans-serif" font-size="34" text-anchor="middle">Conv. and Sel. %</text>
<rect x="902.5" y="542.1" width="58" height="28.4" fill="url(#bg)"/>
<text transform="translate(973.50 565.00) scale(1.0000 1)" font-family="Liberation Sans, sans-serif" font-size="34" text-anchor="start">Conv.</text>
<line x1="1137" y1="557.9" x2="1160.2" y2="557.9" stroke="#0a7cff" stroke-width="3"/>
<line x1="1172.2" y1="557.9" x2="1195" y2="557.9" stroke="#0a7cff" stroke-width="3"/>
<circle cx="1166" cy="557.9" r="4.8" fill="url(#dg)"/>
<text transform="translate(1202.50 567.00) scale(1.0000 1)" font-family="Liberation Sans, sans-serif" font-size="34" text-anchor="start">Sel.</text>
</svg>
</body></html>
